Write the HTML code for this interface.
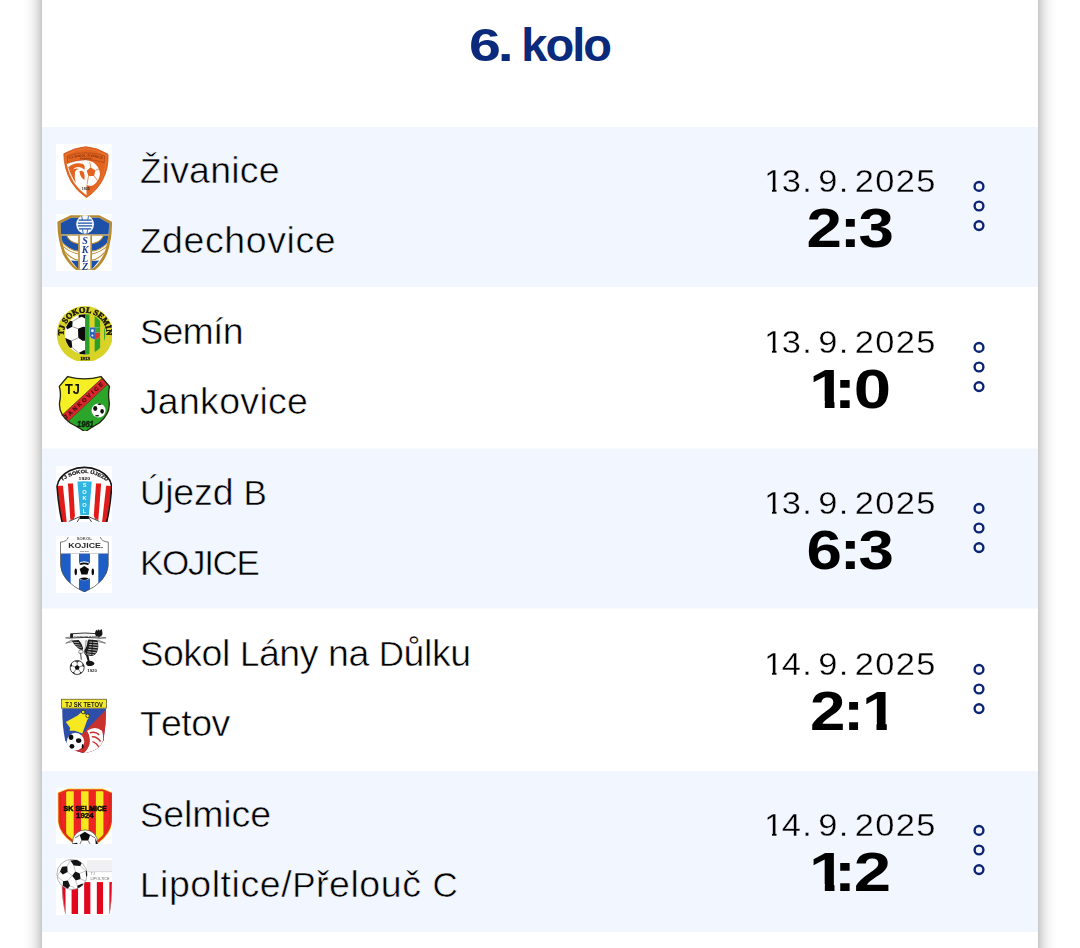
<!DOCTYPE html>
<html lang="cs">
<head>
<meta charset="utf-8">
<title>6. kolo</title>
<style>
  html, body { margin: 0; padding: 0; }
  body {
    width: 1080px; height: 948px; overflow: hidden; position: relative;
    background: #ffffff;
    font-family: "Liberation Sans", sans-serif;
    color: #000000;
  }
  .card {
    position: absolute; left: 42px; top: -60px; width: 996px; height: 1100px;
    background: #ffffff;
    box-shadow: 0 0 16px rgba(0,0,0,0.43);
  }
  h2.title {
    position: absolute; left: 0; top: 80px; width: 996px; margin: 0;
    text-align: center; font-weight: bold; font-size: 47px; line-height: 50px; letter-spacing: -0.7px;
    color: #0b2a7b;
  }
  .title .a { display: inline-block; transform: scaleX(1.22); transform-origin: 0 50%; letter-spacing: -2.6px; margin-left: -1px; margin-right: 6px; }
  .title .b { letter-spacing: -2px; }
  .row { position: absolute; left: 0; width: 996px; height: 161px; --bg: #ffffff; }
  .row.alt { --bg: #f2f6fe; }
  .bg { position: absolute; left: 0; width: 996px; background: #f2f6fe; }
  .bg.half { background: #f8fafe; height: 1px; }
  .logo { position: absolute; left: 14px; width: 56px; height: 56px; background: #fff; }
  .logo.l1 { top: 16.5px; }
  .logo.l2 { top: 86.5px; height: 57px; }
  .logo svg { display: block; width: 56px; height: 56px; filter: blur(0.4px); }
  .team {
    position: absolute; left: 98px; font-size: 37.5px; line-height: 44px; white-space: nowrap;
  }
  .team { -webkit-text-stroke: 0.55px var(--bg); }
  .date { -webkit-text-stroke: 0.3px var(--bg); }
  .team .c { font-size: 35px; }
  .team.t1 { top: 21px; }
  .team.t2 { top: 91px; }
  .date {
    position: absolute; left: 700px; width: 216px; top: 36px; text-align: center;
    font-size: 30.5px; line-height: 36px; white-space: nowrap;
  }
  .date span { display: inline-block; transform: scaleX(1.13); letter-spacing: 1.15px; word-spacing: -5px; }
  .date i { font-style: normal; display: inline-block; position: relative; margin-right: -2.5px; }
  .date i::before, .date i::after { content: ""; position: absolute; top: 25.4px; height: 4.2px; background: var(--bg); }
  .date i::before { left: 0.6px; width: 6.5px; }
  .date i::after { left: 10.7px; width: 6px; }
  .score {
    position: absolute; left: 699px; width: 216px; top: 71px; text-align: center;
    font-size: 55.5px; line-height: 60px; font-weight: bold; white-space: nowrap; color: #000;
  }
  .score span { display: inline-block; transform: scaleX(1.146); letter-spacing: -2px; }
  .score i { font-style: normal; display: inline-block; position: relative; margin-right: -6px; }
  .score i.lead { margin-right: -8.5px; }
  .score em { font-style: normal; position: relative; z-index: 1; }
  .score i::before, .score i::after { content: ""; position: absolute; top: 42px; height: 9px; background: var(--bg); }
  .score i::before { left: 2px; width: 10.6px; }
  .score i::after { left: 21.4px; width: 10px; }
  .more { position: absolute; left: 926px; top: 48px; width: 22px; height: 64px; }
  .more svg { display: block; }
</style>
</head>
<body>
<div class="card">
  <h2 class="title"><span class="a">6.</span> <span class="b">kolo</span></h2>
  <div class="bg" style="top:187px;height:160px"></div>
  <div class="bg half" style="top:508px"></div>
  <div class="bg" style="top:509px;height:159px"></div>
  <div class="bg half" style="top:668px"></div>
  <div class="bg" style="top:831px;height:161px"></div>

  <div class="row alt" style="top:187px">
    <div class="logo l1"><svg viewBox="0 0 56 56"><defs><path id="p01" d="M236,292 Q500,196 770,292"/><path id="q01" d="M300,312 Q500,250 700,312"/></defs><g transform="translate(-4 -4) scale(0.0675105)">
<path d="M175,205 Q330,112 500,100 Q670,112 830,210 Q842,420 745,600 Q655,760 510,852 Q368,760 285,620 Q178,430 175,205Z" fill="#e2641f" stroke="#d2581a" stroke-width="12"/>
<path d="M205,222 Q340,138 500,128 Q660,138 800,226 Q810,420 722,590 Q640,735 510,818 Q385,735 306,606 Q208,425 205,222Z" fill="none" stroke="#f0894d" stroke-width="7"/>
<path d="M218,352 Q340,300 500,296 Q560,300 610,330 Q700,390 712,500 Q700,610 610,672 Q560,690 512,668 L512,820 Q400,740 320,620 Q240,480 218,352Z" fill="#fffdfb"/>
<path d="M228,238 Q500,140 780,238 L772,335 Q640,290 500,292 Q350,296 226,346Z" fill="none" stroke="#9a3c10" stroke-width="8"/>
<text font-family="Liberation Sans, sans-serif" font-size="46" font-weight="bold" fill="#7c2f0b"><textPath href="#p01" startOffset="50%" text-anchor="middle" textLength="500" lengthAdjust="spacingAndGlyphs">TJ SOKOL ŽIVANICE</textPath></text>
<text font-family="Liberation Sans, sans-serif" font-size="34" font-weight="bold" fill="#7c2f0b"><textPath href="#q01" startOffset="50%" text-anchor="middle" textLength="170" lengthAdjust="spacingAndGlyphs">kopaná</textPath></text>
<path d="M240,405 Q330,325 455,352 Q500,385 478,440 Q430,380 345,408 Q298,440 292,530 Q268,470 240,405Z" fill="#e2641f"/>
<path d="M270,470 Q300,560 352,640 Q330,560 340,470 Q360,430 400,430 Q340,400 270,470Z" fill="#e2641f"/>
<path d="M405,468 Q445,440 472,482 Q492,540 482,592 Q440,572 420,522Z" fill="#e2641f"/>
<polygon points="572,404 642,450 622,532 540,532 514,456" fill="#e2641f"/>
<path d="M560,320 L572,404 M642,450 L705,430 M622,532 L680,610 M540,532 L520,660" stroke="#e2641f" stroke-width="10" fill="none"/>
<path d="M232,395 L258,470 L300,560" stroke="#444" stroke-width="7" fill="none" stroke-dasharray="10 26"/>
<text x="500" y="742" font-family="Liberation Sans, sans-serif" font-size="44" font-weight="bold" fill="#3a2a22" text-anchor="middle" textLength="120" lengthAdjust="spacingAndGlyphs">1925</text>
</g></svg></div>
    <div class="logo l2"><svg viewBox="0 0 56 56"><defs><clipPath id="c02"><path d="M125,195 L290,112 L690,112 L845,195 Q850,420 775,640 Q700,800 590,880 L400,880 Q285,800 200,640 Q125,420 125,195Z"/></clipPath></defs><g transform="translate(-4 -4) scale(0.0675105)">
<path d="M80,175 L275,78 L700,78 L888,175 Q895,420 815,650 Q740,820 610,908 L385,908 Q250,820 160,650 Q78,420 80,175Z" fill="#b98a2e"/>
<g clip-path="url(#c02)">
<rect x="100" y="90" width="780" height="830" fill="#fffefc"/>
<rect x="100" y="90" width="780" height="272" fill="#1d51a8"/>
<rect x="100" y="362" width="780" height="18" fill="#b98a2e"/>
<path d="M100,380 L219,380 Q262,476 392,501 L392,606 Q250,590 150,470 L100,470Z" fill="#1d51a8"/>
<path d="M880,380 L761,380 Q718,476 588,501 L588,606 Q730,590 830,470 L880,470Z" fill="#1d51a8"/>
<g fill="none" stroke="#b98a2e" stroke-width="15">
<path d="M219,384 Q262,478 392,501 M761,384 Q718,478 588,501"/>
<path d="M140,470 Q250,594 392,612 M840,470 Q730,594 588,612"/>
<path d="M150,522 Q260,632 392,650 M830,522 Q720,632 588,650"/>
<path d="M185,612 Q290,730 392,746 M795,612 Q690,730 588,746"/>
</g>
<path d="M280,748 L392,756 L392,880Z M700,748 L588,756 L588,880Z" fill="#1d51a8"/>
<rect x="388" y="378" width="204" height="540" fill="#b98a2e"/>
<rect x="412" y="378" width="156" height="540" fill="#fffefc"/>
</g>
<ellipse cx="490" cy="212" rx="132" ry="138" fill="#f4f8fc"/>
<path d="M395,150 H585 M385,195 H595 M385,235 H595 M400,280 H580" stroke="#1d51a8" stroke-width="16" fill="none"/>
<path d="M440,90 L450,150 M540,90 L530,150 M450,285 L462,345 M530,285 L518,345" stroke="#1d51a8" stroke-width="12" fill="none"/>
<g font-family="Liberation Serif, serif" font-style="italic" font-weight="bold" fill="#1d3f8f" text-anchor="middle" font-size="150">
<text x="490" y="510">S</text><text x="490" y="640">K</text><text x="490" y="765">L</text><text x="490" y="890">Z</text></g>
</g></svg></div>
    <div class="team t1" style="letter-spacing:0.2px"><span class="c">Ž</span>ivanice</div>
    <div class="team t2" style="letter-spacing:0.6px"><span class="c">Z</span>dechovice</div>
    <div class="date"><span><i>1</i>3. 9. 2025</span></div>
    <div class="score"><span>2:3</span></div>
    <div class="more"><svg width="22" height="64" viewBox="0 0 22 64"><g fill="none" stroke="#0b2474" stroke-width="2.4"><circle cx="11" cy="11.4" r="4.4"/><circle cx="11" cy="31" r="4.4"/><circle cx="11" cy="50.6" r="4.4"/></g></svg></div>
  </div>

  <div class="row" style="top:348px">
    <div class="logo l1"><svg viewBox="0 0 56 56"><defs><clipPath id="c03"><circle cx="490" cy="492" r="300"/></clipPath><path id="p03" d="M176,540 A318,318 0 1 1 804,540"/></defs><g transform="translate(-4 -4) scale(0.0675105)">
<circle cx="486" cy="490" r="416" fill="#d9d327"/>
<g clip-path="url(#c03)">
<rect x="180" y="180" width="310" height="620" fill="#fdfdfb"/>
<rect x="490" y="180" width="68" height="620" fill="#2c9f2b"/>
<rect x="558" y="180" width="74" height="620" fill="#d9d327"/>
<rect x="632" y="180" width="84" height="620" fill="#2c9f2b"/>
<rect x="716" y="180" width="56" height="620" fill="#d9d327"/>
<rect x="772" y="180" width="30" height="620" fill="#2c9f2b"/>
<polygon points="395,195 490,195 490,260 440,235 395,250" fill="#0b0b0b"/>
<polygon points="205,380 250,290 305,300 300,380 225,420" fill="#0b0b0b"/>
<polygon points="385,410 460,380 490,385 490,590 450,590 390,545" fill="#0b0b0b"/>
<polygon points="190,545 290,590 300,690 250,700 200,620" fill="#0b0b0b"/>
<polygon points="395,770 470,730 490,730 490,800 420,790" fill="#0b0b0b"/>
<path d="M305,300 L395,250 M300,380 L385,410 M390,545 L290,590 M300,690 L395,770" stroke="#555" stroke-width="8" fill="none"/>
</g>
<path d="M560,392 H712 V500 Q712,560 636,566 Q560,560 560,500Z" fill="#e8eef5"/>
<path d="M560,392 H636 V566 Q560,560 560,500Z" fill="#2c63b8"/>
<path d="M636,392 H712 V470 H636Z" fill="#3aa535"/>
<path d="M636,470 H712 V500 Q712,560 636,566Z" fill="#d8382c"/>
<circle cx="598" cy="440" r="22" fill="#e9eef6"/><circle cx="598" cy="512" r="14" fill="#e9eef6"/>
<text font-family="Liberation Serif, serif" font-weight="bold" font-size="122" fill="#14140a" stroke="#14140a" stroke-width="7"><textPath href="#p03" startOffset="50%" text-anchor="middle" textLength="1040" lengthAdjust="spacingAndGlyphs">TJ SOKOL SEMÍN</textPath></text>
<text x="490" y="868" font-family="Liberation Serif, serif" font-weight="bold" font-size="74" fill="#14140a" stroke="#14140a" stroke-width="4" text-anchor="middle" textLength="146" lengthAdjust="spacingAndGlyphs">1913</text>
</g></svg></div>
    <div class="logo l2"><svg viewBox="0 0 56 56"><defs><clipPath id="c04"><path d="M232,82 Q480,150 725,82 L852,228 Q825,330 848,470 Q860,640 700,770 Q560,850 490,902 Q420,850 270,770 Q95,640 112,470 Q140,330 108,228Z"/></clipPath></defs><g transform="translate(-4 -4) scale(0.0675105)">
<g clip-path="url(#c04)">
<rect x="80" y="60" width="800" height="860" fill="#2ba52a"/>
<polygon points="80,60 790,60 100,698 80,720" fill="#f6ef23"/>
<polygon points="100,698 760,90 880,144 200,782" fill="#d9282d"/>
</g>
<path d="M232,82 Q480,150 725,82 L852,228 Q825,330 848,470 Q860,640 700,770 Q560,850 490,902 Q420,850 270,770 Q95,640 112,470 Q140,330 108,228Z" fill="none" stroke="#26270f" stroke-width="20" stroke-linejoin="round"/>
<path d="M745,104 L140,662 M830,192 L222,762" stroke="#4a2510" stroke-width="7" fill="none"/>
<text x="304" y="348" font-family="Liberation Sans, sans-serif" font-weight="bold" font-size="206" fill="#15150a" text-anchor="middle" textLength="222" lengthAdjust="spacingAndGlyphs">TJ</text>
<text transform="translate(208,716) rotate(-42.6)" font-family="Liberation Sans, sans-serif" font-weight="bold" font-size="84" fill="#480e0e" stroke="#480e0e" stroke-width="4" textLength="752" lengthAdjust="spacing">JANKOVICE</text>
<circle cx="690" cy="584" r="104" fill="#fdfdfd"/>
<ellipse cx="640" cy="555" rx="30" ry="36" fill="#111"/><ellipse cx="742" cy="598" rx="26" ry="34" fill="#111"/>
<ellipse cx="705" cy="492" rx="30" ry="12" fill="#111"/><ellipse cx="668" cy="662" rx="30" ry="12" fill="#111"/>
<text x="495" y="828" font-family="Liberation Sans, sans-serif" font-weight="bold" font-style="italic" font-size="122" fill="#0d250d" stroke="#0d250d" stroke-width="6" text-anchor="middle" textLength="250" lengthAdjust="spacingAndGlyphs">1981</text>
</g></svg></div>
    <div class="team t1" style="letter-spacing:-0.8px"><span class="c">S</span>emín</div>
    <div class="team t2" style="letter-spacing:0.3px"><span class="c">J</span>ankovice</div>
    <div class="date"><span><i>1</i>3. 9. 2025</span></div>
    <div class="score"><span style="transform:scaleX(1.21)"><i class="lead">1</i><em>:</em>0</span></div>
    <div class="more"><svg width="22" height="64" viewBox="0 0 22 64"><g fill="none" stroke="#0b2474" stroke-width="2.4"><circle cx="11" cy="11.4" r="4.4"/><circle cx="11" cy="31" r="4.4"/><circle cx="11" cy="50.6" r="4.4"/></g></svg></div>
  </div>

  <div class="row alt" style="top:509px">
    <div class="logo l1"><svg viewBox="0 0 56 56"><defs><clipPath id="c05"><path d="M72,352 Q110,210 260,130 Q480,30 700,130 Q850,210 886,352 Q870,640 812,892 L148,892 Q90,640 72,352Z"/></clipPath><path id="p05" d="M128,300 Q480,30 832,300"/></defs><g transform="translate(-4 -4) scale(0.0675105)">
<g clip-path="url(#c05)">
<rect x="60" y="50" width="840" height="850" fill="#fffdfd"/>
<polygon points="72,350 162,350 218,892 140,892" fill="#e01b19"/>
<polygon points="236,318 312,318 342,840 272,860" fill="#e01b19"/>
<polygon points="376,286 590,286 546,802 420,802" fill="#30b4e1"/>
<polygon points="652,318 728,318 686,860 616,840" fill="#e01b19"/>
<polygon points="802,350 888,350 812,892 742,892" fill="#e01b19"/>
<path d="M60,50 H900 V360 Q800,330 730,316 Q600,282 480,282 Q360,282 232,316 Q160,330 60,360Z" fill="#fffdfd"/>
<path d="M340,800 Q480,770 620,800 L660,900 L300,900Z" fill="#fffdfd"/>
<rect x="408" y="800" width="140" height="44" rx="10" fill="#101010"/>
<path d="M408,830 L370,895 M548,830 L590,895 M408,812 L250,880 M548,812 L700,880" stroke="#222" stroke-width="12" fill="none"/>
</g>
<path d="M150,892 Q92,640 74,360 Q100,210 260,130 Q480,30 700,130 Q860,210 884,360 Q868,640 810,892" fill="none" stroke="#151515" stroke-width="23"/>
<text font-family="Liberation Sans, sans-serif" font-weight="bold" font-size="72" fill="#151515" stroke="#151515" stroke-width="3"><textPath href="#p05" startOffset="50%" text-anchor="middle" textLength="720" lengthAdjust="spacingAndGlyphs">TJ SOKOL ÚJEZD</textPath></text>
<text x="478" y="274" font-family="Liberation Sans, sans-serif" font-weight="bold" font-size="44" fill="#151515" text-anchor="middle" textLength="170" lengthAdjust="spacingAndGlyphs">1920</text>
<g font-family="Liberation Sans, sans-serif" font-weight="bold" font-size="84" fill="#eefaff" text-anchor="middle">
<text x="482" y="372">S</text><text x="482" y="468">O</text><text x="482" y="564">K</text><text x="482" y="660">O</text><text x="482" y="756">L</text></g>
</g></svg></div>
    <div class="logo l2"><svg viewBox="0 0 56 56"><defs><clipPath id="c06"><path d="M240,76 Q230,140 126,150 L126,500 Q150,740 480,890 Q810,740 834,500 L834,150 Q730,140 716,76Z"/></clipPath></defs><g transform="translate(-4 -4) scale(0.0675105)">
<g clip-path="url(#c06)">
<rect x="100" y="60" width="760" height="850" fill="#fefefe"/>
<rect x="100" y="320" width="176" height="600" fill="#1d5dc5"/>
<rect x="400" y="320" width="162" height="600" fill="#1d5dc5"/>
<rect x="686" y="320" width="176" height="600" fill="#1d5dc5"/>
</g>
<path d="M240,76 Q230,140 126,150 L126,500 Q150,740 480,890 Q810,740 834,500 L834,150 Q730,140 716,76" fill="none" stroke="#4a4a4a" stroke-width="11"/>
<path d="M126,318 H834" stroke="#8a8fa0" stroke-width="6"/>
<text x="478" y="112" font-family="Liberation Sans, sans-serif" font-weight="bold" font-size="38" fill="#555" text-anchor="middle" textLength="225" lengthAdjust="spacingAndGlyphs">SOKOL</text>
<text x="500" y="234" font-family="Liberation Sans, sans-serif" font-weight="bold" font-size="116" fill="#2a2a2a" text-anchor="middle" textLength="520" lengthAdjust="spacingAndGlyphs">KOJICE.</text>
<text x="480" y="300" font-family="Liberation Sans, sans-serif" font-weight="bold" font-size="36" fill="#666" text-anchor="middle" textLength="140" lengthAdjust="spacingAndGlyphs">1921</text>
<circle cx="478" cy="575" r="140" fill="#fdfdfd"/>
<polygon points="478,505 548,548 524,628 436,628 410,548" fill="#0a0a0a"/>
<path d="M400,470 Q478,430 556,470 L530,490 Q478,462 426,490Z" fill="#0a0a0a"/>
<ellipse cx="352" cy="590" rx="18" ry="50" fill="#0a0a0a"/><ellipse cx="604" cy="590" rx="18" ry="50" fill="#0a0a0a"/>
<path d="M410,690 Q478,655 546,690 Q478,735 410,690Z" fill="#0a0a0a"/>
</g></svg></div>
    <div class="team t1" style="letter-spacing:-0.15px"><span class="c">Ú</span>jezd <span class="c">B</span></div>
    <div class="team t2" style="letter-spacing:-1.3px"><span class="c">KOJICE</span></div>
    <div class="date"><span><i>1</i>3. 9. 2025</span></div>
    <div class="score"><span>6:3</span></div>
    <div class="more"><svg width="22" height="64" viewBox="0 0 22 64"><g fill="none" stroke="#0b2474" stroke-width="2.4"><circle cx="11" cy="11.4" r="4.4"/><circle cx="11" cy="31" r="4.4"/><circle cx="11" cy="50.6" r="4.4"/></g></svg></div>
  </div>

  <div class="row" style="top:670px">
    <div class="logo l1"><svg viewBox="0 0 56 56"><g transform="translate(-4 -4) scale(0.0675105)">
<path d="M275,232 L200,220 L290,205 M300,250 L204,299 L340,268 M695,232 L801,220 L690,205 M672,250 L793,299 L640,268" fill="none" stroke="#6a6a6a" stroke-width="12" stroke-linejoin="round"/>
<path d="M276,160 Q486,136 696,160 L696,222 Q486,206 276,222Z" fill="#f4f4f4" stroke="#1c1c1c" stroke-width="13"/>
<path d="M276,160 L276,222 L312,218 L312,164Z" fill="#1a1a1a"/>
<text x="500" y="204" font-family="Liberation Sans, sans-serif" font-weight="bold" font-size="30" fill="#4a4a4a" text-anchor="middle" textLength="350" lengthAdjust="spacingAndGlyphs">TJ Sokol Lány na Důlku</text>
<path d="M636,150 Q640,110 668,96 L676,120 L694,88 L706,116 L732,90 Q752,120 748,168 Q740,200 700,204 L650,196Z" fill="#161616"/>
<path d="M294,258 L396,250 Q440,290 450,330 Q465,365 463,392 L430,400 Q380,380 340,330 Q310,295 294,258Z" fill="#1e1e1e"/>
<path d="M318,288 L400,290 M336,318 L420,326 M360,350 L440,362" stroke="#e8e8e8" stroke-width="9"/>
<path d="M400,252 L536,246 Q520,330 480,420 L462,392 Q460,330 400,252Z" fill="#f3f3f3"/>
<path d="M500,262 Q530,250 534,290 Q528,370 496,430 L478,420 Q505,340 500,262Z" fill="#dadada" stroke="#555" stroke-width="6"/>
<path d="M538,243 L673,254 Q690,300 686,350 Q680,420 650,455 Q620,486 580,490 L538,480 Q500,460 478,420 Q520,340 538,243Z" fill="#1b1b1b"/>
<path d="M556,282 L676,290 M552,318 L682,328 M546,354 L680,366 M536,390 L670,404 M524,426 L652,442 M520,458 L622,472" stroke="#f2f2f2" stroke-width="11"/>
<path d="M600,250 L590,486" stroke="#1b1b1b" stroke-width="14"/>
<path d="M396,420 Q400,396 432,398 Q462,402 464,430 Q455,452 430,450 L400,448Z" fill="#f7f7f7" stroke="#3a3a3a" stroke-width="8"/>
<path d="M424,448 L434,545" stroke="#2a2a2a" stroke-width="13"/>
<path d="M470,420 Q500,470 540,482 L556,560 Q620,566 630,604 Q612,640 540,638 Q495,620 505,580 L528,560 L505,486 Q480,470 470,420Z" fill="#151515"/>
<circle cx="373" cy="659" r="104" fill="#fbfbfb" stroke="#1a1a1a" stroke-width="12"/>
<polygon points="373,622 410,648 396,692 350,692 336,648" fill="#0d0d0d"/>
<path d="M373,622 L373,566 M410,648 L464,628 M396,692 L430,742 M350,692 L316,742 M336,648 L282,628" stroke="#2a2a2a" stroke-width="8"/>
<path d="M330,566 L416,566 L373,585Z M452,590 L478,650 L450,640Z M452,730 L398,760 L420,730Z M294,730 L348,760 L326,730Z M270,650 L294,590 L296,640Z" fill="#141414"/>
<text x="594" y="730" font-family="Liberation Sans, sans-serif" font-weight="bold" font-size="64" fill="#333" text-anchor="middle" textLength="144" lengthAdjust="spacingAndGlyphs">1920</text>
</g></svg></div>
    <div class="logo l2"><svg viewBox="0 0 56 56"><defs><clipPath id="c08"><path d="M150,225 H802 Q800,480 762,700 Q700,860 480,892 Q260,860 195,700 Q150,480 150,225Z"/></clipPath></defs><g transform="translate(-4 -4) scale(0.0675105)">
<g clip-path="url(#c08)">
<rect x="140" y="220" width="680" height="690" fill="#2e4fa9"/>
<polygon points="812,232 812,910 160,910" fill="#c9312d"/>
<path d="M520,560 Q640,480 740,560 Q790,700 700,850 Q640,900 470,890 Q560,800 560,700 Q560,620 520,560Z" fill="#fdfbfb"/>
<path d="M560,590 Q640,560 700,620 M590,650 Q660,640 720,720 M600,720 Q660,740 700,810" stroke="#c9312d" stroke-width="22" fill="none"/>
<path d="M480,590 Q560,640 540,760 Q520,830 470,870" stroke="#c9312d" stroke-width="26" fill="none"/>
</g>
<polygon points="430,290 560,345 520,405 450,600 340,560 260,560 270,520 205,430 380,335" fill="#f6e921"/>
<circle cx="462" cy="282" r="26" fill="#f6e921" stroke="#2a2a18" stroke-width="12"/>
<circle cx="528" cy="338" r="26" fill="#f6e921" stroke="#2a2a18" stroke-width="12"/>
<circle cx="348" cy="720" r="130" fill="#fdfdfd"/>
<ellipse cx="282" cy="655" rx="34" ry="40" fill="#0d0d0d"/><ellipse cx="395" cy="705" rx="40" ry="36" fill="#0d0d0d"/>
<ellipse cx="295" cy="790" rx="36" ry="34" fill="#0d0d0d"/><ellipse cx="455" cy="790" rx="14" ry="34" fill="#0d0d0d"/>
<rect x="142" y="92" width="666" height="132" fill="#f3ea2c" stroke="#4a4620" stroke-width="10"/>
<text x="476" y="200" font-family="Liberation Sans, sans-serif" font-weight="bold" font-size="112" fill="#1a1a10" text-anchor="middle" textLength="560" lengthAdjust="spacingAndGlyphs">TJ SK TETOV</text>
</g></svg></div>
    <div class="team t1" style="letter-spacing:-0.45px"><span class="c">S</span>okol <span class="c">L</span>ány na <span class="c">D</span>ůlku</div>
    <div class="team t2" style="letter-spacing:-0.5px"><span class="c">T</span>etov</div>
    <div class="date"><span><i>1</i>4. 9. 2025</span></div>
    <div class="score"><span>2:<i>1</i></span></div>
    <div class="more"><svg width="22" height="64" viewBox="0 0 22 64"><g fill="none" stroke="#0b2474" stroke-width="2.4"><circle cx="11" cy="11.4" r="4.4"/><circle cx="11" cy="31" r="4.4"/><circle cx="11" cy="50.6" r="4.4"/></g></svg></div>
  </div>

  <div class="row alt" style="top:831px">
    <div class="logo l1"><svg viewBox="0 0 56 56"><defs><clipPath id="c09"><path d="M92,132 L232,76 H750 L890,132 L886,560 Q860,740 690,862 L300,862 Q120,740 94,560Z"/></clipPath><clipPath id="b09"><rect x="59" y="59" width="830" height="858"/></clipPath></defs><g transform="translate(-4 -4) scale(0.0675105)"><g clip-path="url(#b09)">
<path d="M92,132 L232,76 H750 L890,132 L886,560 Q860,740 690,862 L300,862 Q120,740 94,560Z" fill="#ee2323" stroke="#f8d23a" stroke-width="18"/>
<g clip-path="url(#c09)">
<rect x="210" y="60" width="112" height="820" fill="#f6e71f"/>
<rect x="430" y="60" width="112" height="820" fill="#f6e71f"/>
<rect x="650" y="60" width="112" height="820" fill="#f6e71f"/>
<path d="M92,132 L232,76 H750 L890,132 L886,560 Q860,740 690,862 L300,862 Q120,740 94,560Z" fill="none" stroke="#e3301c" stroke-width="60"/><path d="M128,150 L128,560 Q150,715 316,838 M856,150 L856,560 Q834,715 670,838" stroke="#c81a12" stroke-width="8" fill="none"/>
</g>
<text x="492" y="398" font-family="Liberation Sans, sans-serif" font-weight="bold" font-size="108" fill="#120808" stroke="#120808" stroke-width="8" text-anchor="middle" textLength="640" lengthAdjust="spacingAndGlyphs">SK SELMICE</text>
<text x="486" y="498" font-family="Liberation Sans, sans-serif" font-weight="bold" font-size="104" fill="#120808" stroke="#120808" stroke-width="6" text-anchor="middle" textLength="260" lengthAdjust="spacingAndGlyphs">1924</text>
<circle cx="490" cy="868" r="188" fill="#fdfdfd" stroke="#222" stroke-width="8"/>
<polygon points="486,706 566,756 536,838 438,838 410,756" fill="#0b0b0b"/>
<path d="M410,756 L340,800 M566,756 L640,800 M438,838 L400,920 M536,838 L580,920" stroke="#222" stroke-width="9" fill="none"/>
<polygon points="310,880 372,872 392,920 300,920" fill="#0b0b0b"/>
<polygon points="640,800 672,870 676,920 650,920" fill="#0b0b0b"/>
</g></g></svg></div>
    <div class="logo l2"><svg viewBox="0 0 56 56"><defs><clipPath id="c10"><path d="M140,416 H888 Q892,700 850,900 L200,900 Q150,700 140,416Z"/></clipPath><clipPath id="k10"><circle cx="296" cy="302" r="224"/></clipPath></defs><g transform="translate(-4 -4) scale(0.0675105)">
<rect x="520" y="90" width="368" height="172" fill="#f1f1f3"/>
<path d="M520,262 H888" stroke="#b9b9bd" stroke-width="7"/>
<g clip-path="url(#c10)">
<rect x="140" y="416" width="60" height="494" fill="#e3071d"/>
<rect x="290" y="416" width="96" height="494" fill="#e3071d"/>
<rect x="476" y="416" width="92" height="494" fill="#e3071d"/>
<rect x="664" y="416" width="92" height="494" fill="#e3071d"/>
<rect x="850" y="416" width="50" height="494" fill="#e3071d"/>
</g>
<path d="M150,470 Q160,720 205,895 M886,440 Q886,720 845,895" stroke="#b8b0b0" stroke-width="8" fill="none"/>
<text x="576" y="314" font-family="Liberation Sans, sans-serif" font-size="44" fill="#777" textLength="58" lengthAdjust="spacingAndGlyphs">TJ</text>
<text x="570" y="388" font-family="Liberation Sans, sans-serif" font-size="48" fill="#666" textLength="282" lengthAdjust="spacingAndGlyphs">LIPOLTICE</text>
<circle cx="296" cy="302" r="224" fill="#fdfdfd" stroke="#8a8a8a" stroke-width="9"/>
<g clip-path="url(#k10)">
<polygon points="272,96 372,84 440,130 420,176 322,170" fill="#141414"/>
<polygon points="150,190 226,180 232,268 160,302 118,262" fill="#141414"/>
<polygon points="346,258 412,288 424,372 352,392 298,322" fill="#141414"/>
<polygon points="162,402 236,392 268,470 232,514 160,470" fill="#141414"/>
<polygon points="372,470 452,436 470,470 410,520 380,506" fill="#141414"/>
<polygon points="500,250 530,240 530,340 505,330" fill="#141414"/>
<path d="M232,268 L298,322 M322,170 L346,258 M226,180 L272,96 M236,392 L298,322 M352,392 L372,470 M268,470 L330,500 M412,288 L500,250 M420,176 L500,250 M424,372 L505,400 M118,262 L80,330 L162,402" stroke="#8a8a8a" stroke-width="7" fill="none"/>
</g>
</g></svg></div>
    <div class="team t1" style="letter-spacing:-0.1px"><span class="c">S</span>elmice</div>
    <div class="team t2" style="letter-spacing:0.55px"><span class="c">L</span>ipoltice/<span class="c">P</span>řelouč <span class="c">C</span></div>
    <div class="date"><span><i>1</i>4. 9. 2025</span></div>
    <div class="score"><span style="transform:scaleX(1.21)"><i class="lead">1</i><em>:</em>2</span></div>
    <div class="more"><svg width="22" height="64" viewBox="0 0 22 64"><g fill="none" stroke="#0b2474" stroke-width="2.4"><circle cx="11" cy="11.4" r="4.4"/><circle cx="11" cy="31" r="4.4"/><circle cx="11" cy="50.6" r="4.4"/></g></svg></div>
  </div>
</div>
</body>
</html>
